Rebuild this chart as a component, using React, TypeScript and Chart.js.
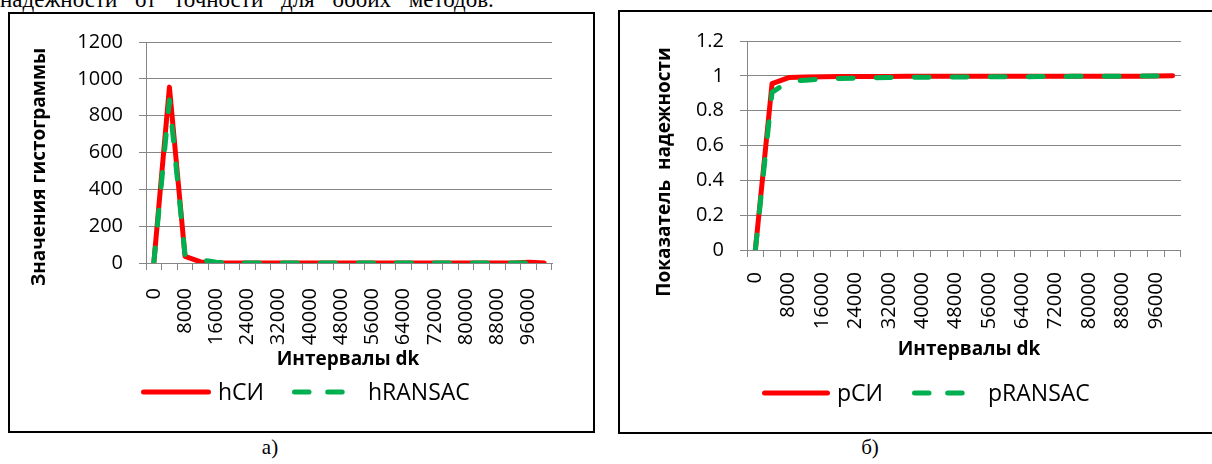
import React, { useEffect, useRef } from "react";
import { Chart, registerables } from "chart.js";

Chart.register(...registerables);

// ---------- data ----------
const intervals = [
  "0", "4000", "8000", "12000", "16000", "20000", "24000", "28000", "32000", "36000",
  "40000", "44000", "48000", "52000", "56000", "60000", "64000", "68000", "72000", "76000",
  "80000", "84000", "88000", "92000", "96000", "100000",
];

const hSI = [0, 955, 36, 6, 1, 0, 0, 0, 0, 0, 0, 0, 0, 0, 0, 0, 0, 0, 0, 0, 0, 0, 0, 0, 4, 0];
const hRANSAC = [0, 885, 42, 18, 4, 1, 0, 0, 0, 0, 0, 0, 0, 0, 0, 0, 0, 0, 0, 0, 0, 0, 0, 0, 0, 0];

const pSI = [
  0, 0.955, 0.99, 0.994, 0.995, 0.996, 0.996, 0.996, 0.996, 0.997, 0.997, 0.997, 0.997,
  0.997, 0.997, 0.997, 0.997, 0.998, 0.998, 0.998, 0.998, 0.998, 0.998, 0.998, 0.999, 1.0,
];
const pRANSAC = [
  0, 0.905, 0.968, 0.975, 0.982, 0.985, 0.987, 0.989, 0.99, 0.991, 0.992, 0.993, 0.993,
  0.994, 0.994, 0.995, 0.995, 0.996, 0.996, 0.997, 0.997, 0.998, 0.998, 0.999, 0.999, 1.0,
];

const hTicks = { min: 0, max: 1200, step: 200 };
const pTicks = { min: 0, max: 1.2, step: 0.2 };

// ---------- styles ----------
const RED = "#FF0000";
const GREEN = "#00B050";
const GRID = "#868686";
const FONT = '"Open Sans", "Noto Sans", sans-serif';
const LINE_W = 5;

const decorPlugin = {
  id: "decor",
  afterDraw(chart: any, _args: any, opts: any) {
    const ctx = chart.ctx;
    ctx.save();
    ctx.fillStyle = "#000";
    ctx.font = `bold ${opts.titleSize}px ${FONT}`;
    ctx.textAlign = "center";
    ctx.textBaseline = "middle";
    ctx.save();
    ctx.translate(opts.yTitle.x, opts.yTitle.y);
    ctx.rotate(-Math.PI / 2);
    ctx.fillText(opts.yTitle.text, 0, 0);
    ctx.restore();
    ctx.fillText(opts.xTitle.text, opts.xTitle.x, opts.xTitle.y);
    ctx.font = `${opts.legendSize}px ${FONT}`;
    ctx.textAlign = "left";
    ctx.textBaseline = "alphabetic";
    chart.data.datasets.forEach((ds: any, i: number) => {
      const it = opts.legend.items[i];
      const w = ds.borderWidth;
      ctx.save();
      ctx.strokeStyle = ds.borderColor;
      ctx.lineWidth = w;
      ctx.lineCap = "round";
      ctx.setLineDash(ds.borderDash && ds.borderDash.length ? opts.legend.dash : []);
      ctx.beginPath();
      ctx.moveTo(it.x0 + w / 2, opts.legend.y);
      ctx.lineTo(it.x1 - w / 2, opts.legend.y);
      ctx.stroke();
      ctx.restore();
      ctx.fillText(ds.label, it.tx, opts.legend.y + opts.legend.baseOff);
    });
    ctx.restore();
  },
};

function buildConfig(c: any, labelA: string, a: number[], labelB: string, b: number[], ticks: any) {
  return {
    type: "line",
    data: {
      labels: intervals,
      datasets: [
        {
          label: labelA,
          data: a,
          borderColor: RED,
          backgroundColor: RED,
          borderWidth: LINE_W,
          borderCapStyle: "round",
          borderJoinStyle: "round",
          pointRadius: 0,
          tension: 0,
          order: 2,
        },
        {
          label: labelB,
          data: b,
          borderColor: GREEN,
          backgroundColor: GREEN,
          borderWidth: LINE_W,
          borderDash: [15, 23],
          borderCapStyle: "round",
          borderJoinStyle: "round",
          pointRadius: 0,
          tension: 0,
          order: 1,
        },
      ],
    },
    plugins: [decorPlugin],
    options: {
      animation: false,
      responsive: false,
      maintainAspectRatio: false,
      layout: { padding: { left: 0, top: c.padTop, right: c.padRight, bottom: 0 } },
      plugins: {
        legend: { display: false },
        tooltip: { enabled: false },
        title: { display: false },
        decor: c.decor,
      },
      scales: {
        x: {
          type: "category",
          offset: true,
          grid: {
            offset: true,
            drawOnChartArea: false,
            drawTicks: true,
            tickLength: 7,
            color: GRID,
            lineWidth: 1,
          },
          border: { display: true, color: GRID, width: 1 },
          ticks: {
            autoSkip: false,
            maxRotation: 90,
            minRotation: 90,
            padding: c.xTickPad,
            color: "#000",
            font: { family: FONT, size: 20 },
            callback: (_v: any, i: number) => (i % 2 === 0 ? intervals[i] : ""),
          },
          afterFit: (s: any) => {
            s.height = c.xAxisH;
          },
        },
        y: {
          min: ticks.min,
          max: ticks.max,
          grid: { color: GRID, lineWidth: 1, drawTicks: true, tickLength: 7 },
          border: { display: true, color: GRID, width: 1 },
          ticks: {
            stepSize: ticks.step,
            padding: 16,
            color: "#000",
            font: { family: FONT, size: 20 },
            callback: (v: number) => String(Math.round(v * 1000) / 1000),
          },
          afterFit: (s: any) => {
            s.width = c.yAxisW;
          },
        },
      },
    },
  } as any;
}

function ChartCanvas(props: { left: number; top: number; w: number; h: number; config: any }) {
  const ref = useRef<HTMLCanvasElement>(null);
  useEffect(() => {
    const chart = new Chart(ref.current as HTMLCanvasElement, props.config);
    return () => chart.destroy();
  }, []);
  return (
    <canvas
      ref={ref}
      width={props.w}
      height={props.h}
      style={{
        position: "absolute",
        left: props.left,
        top: props.top,
        width: props.w,
        height: props.h,
        display: "block",
      }}
    />
  );
}

const leftCfg = {
  padTop: 26,
  padRight: 41,
  yAxisW: 136,
  xAxisH: 168,
  xTickPad: 18,
  decor: {
    titleSize: 19,
    legendSize: 23,
    yTitle: { text: "Значения гистограммы", x: 30, y: 153 },
    xTitle: { text: "Интервалы dk", x: 338, y: 346 },
    legend: {
      y: 378,
      baseOff: 8,
      dash: [14.5, 18.7],
      items: [
        { x0: 131, x1: 201, tx: 208 },
        { x0: 282, x1: 339, tx: 358 },
      ],
    },
  },
};

const rightCfg = {
  padTop: 29,
  padRight: 20,
  yAxisW: 127,
  xAxisH: 182,
  xTickPad: 15,
  decor: {
    titleSize: 19,
    legendSize: 23,
    yTitle: { text: "Показатель  надежности", x: 45, y: 160 },
    xTitle: { text: "Интервалы dk", x: 349, y: 338 },
    legend: {
      y: 381,
      baseOff: 8,
      dash: [14.5, 18.7],
      items: [
        { x0: 142, x1: 210, tx: 217 },
        { x0: 292, x1: 349, tx: 368 },
      ],
    },
  },
};

export default function App() {
  const boxBase: React.CSSProperties = {
    position: "absolute",
    boxSizing: "border-box",
    border: "2px solid #000",
    background: "#fff",
  };
  const caption: React.CSSProperties = {
    position: "absolute",
    fontFamily: '"Liberation Serif", "Times New Roman", serif',
    fontSize: 21,
    lineHeight: "21px",
    whiteSpace: "nowrap",
    color: "#000",
    transform: "translateX(-50%)",
  };
  return (
    <div style={{ position: "fixed", left: 0, top: 0, width: 1212, height: 464, overflow: "hidden", background: "#fff" }}>
      <div
        style={{
          position: "absolute",
          left: 0,
          top: -12,
          fontFamily: '"Liberation Serif", "Times New Roman", serif',
          fontSize: 23,
          lineHeight: "23px",
          whiteSpace: "nowrap",
          wordSpacing: 12,
          color: "#000",
        }}
      >
        надежности от точности для обоих методов.
      </div>
      <div style={{ ...boxBase, left: 8, top: 12, width: 587, height: 421 }} />
      <div style={{ ...boxBase, left: 618, top: 10, width: 594, height: 424, borderRight: "none" }} />
      <ChartCanvas left={10} top={14} w={583} h={417} config={buildConfig(leftCfg, "hСИ", hSI, "hRANSAC", hRANSAC, hTicks)} />
      <ChartCanvas left={620} top={12} w={592} h={420} config={buildConfig(rightCfg, "pСИ", pSI, "pRANSAC", pRANSAC, pTicks)} />
      <div style={{ ...caption, left: 270, top: 437 }}>а)</div>
      <div style={{ ...caption, left: 870, top: 437 }}>б)</div>
    </div>
  );
}
